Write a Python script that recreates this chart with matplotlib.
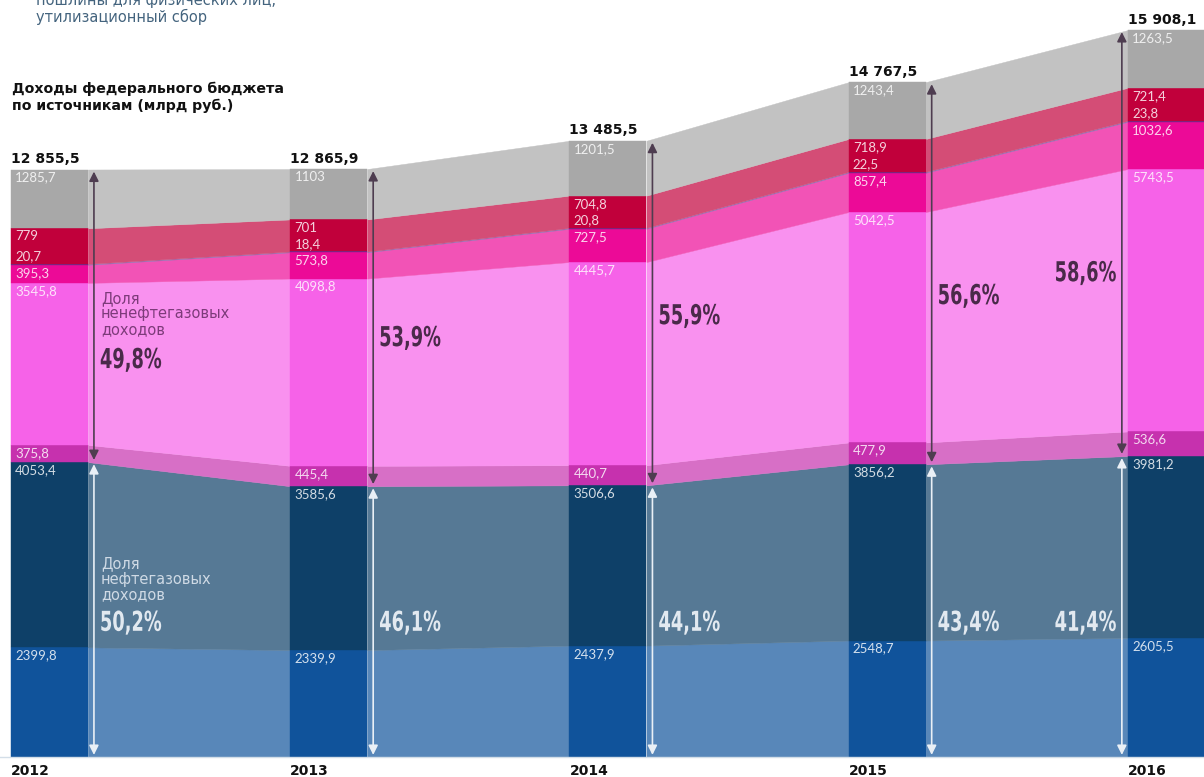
import matplotlib
matplotlib.use('Agg')
import matplotlib.pyplot as plt
import matplotlib.colors as mcolors
from matplotlib.textpath import TextPath
from matplotlib.patches import PathPatch
from matplotlib.font_manager import FontProperties
from matplotlib.transforms import Affine2D
import numpy as np

years = ['2012', '2013', '2014', '2015', '2016']
totals = [12855.5, 12865.9, 13485.5, 14767.5, 15908.1]

# revenue layers, bottom to top (млрд руб.)
oil_lower = [2399.8, 2339.9, 2437.9, 2548.7, 2605.5]
oil_upper = [4053.4, 3585.6, 3506.6, 3856.2, 3981.2]
nonoil_1 = [375.8, 445.4, 440.7, 477.9, 536.6]
nonoil_2 = [3545.8, 4098.8, 4445.7, 5042.5, 5743.5]
nonoil_3 = [395.3, 573.8, 727.5, 857.4, 1032.6]
nonoil_4 = [20.7, 18.4, 20.8, 22.5, 23.8]
nonoil_5 = [779, 701, 704.8, 718.9, 721.4]
nonoil_6 = [1285.7, 1103, 1201.5, 1243.4, 1263.5]

oil_share = ['50,2%', '46,1%', '44,1%', '43,4%', '41,4%']
nonoil_share = ['49,8%', '53,9%', '55,9%', '56,6%', '58,6%']

layers = [oil_lower, oil_upper, nonoil_1, nonoil_2, nonoil_3, nonoil_4, nonoil_5, nonoil_6]
colors = ['#10539b', '#0e4068', '#c631ae', '#f662e8', '#ec0a97', '#6c2d8f', '#c1003b', '#a8a8a8']


def fmt(v):
    return f'{v:,.1f}'.replace(',', ' ').replace('.', ',') if v >= 10000 else f'{v:g}'.replace('.', ',')


def lighten(c, a=0.7):
    r, g, b = mcolors.to_rgb(c)
    return (a * r + 1 - a, a * g + 1 - a, a * b + 1 - a)


# pixel geometry of the original picture
PX = 279.25       # px between bars
K = 0.0457        # px per млрд руб.
BASE = 20         # baseline, px from the bottom

fig = plt.figure(figsize=(12.04, 7.77), dpi=100)
ax = fig.add_axes([0, 0, 1, 1])
ax.set_xlim(-11 / PX, 1193 / PX)
ax.set_ylim(-BASE / K, (777 - BASE) / K)
ax.axis('off')


def narrow_text(xd, yd, s, color, ha='left', dx=0, sx=0.65, size=27.4):
    # condensed bold figure, drawn as a squeezed text path in pixel space
    tp = TextPath((0, 0), s, size=size, prop=FontProperties(family='DejaVu Sans', weight='bold'))
    width = tp.get_extents().x1 * sx
    px, py = ax.transData.transform((xd, yd))
    left = px + dx if ha == 'left' else px + dx - width
    tr = Affine2D().scale(sx, 1).translate(left, py - 0.729 * size / 2)
    fig.add_artist(PathPatch(tp, transform=tr, facecolor=color, edgecolor='none', zorder=6))


x = np.arange(len(years))
w = 77 / PX
bottom = np.zeros(len(years))
tops = []
for vals, c in zip(layers, colors):
    vals = np.array(vals, dtype=float)
    top = bottom + vals
    ax.bar(x, vals, w, bottom=bottom, align='edge', color=c, edgecolor=c, linewidth=0.3, zorder=2)
    lc = lighten(c)
    for i in range(len(x) - 1):
        ax.fill_between([x[i] + w, x[i + 1]], [bottom[i], bottom[i + 1]], [top[i], top[i + 1]],
                        color=lc, edgecolor=lc, linewidth=0.3, zorder=1)
    tops.append(top)
    bottom = top

ax.axhline(0, color='#d3dee8', lw=1, zorder=3)

lab_font = dict(family='Lato', fontsize=9.5, color='white', alpha=0.82, zorder=4)
for j, vals in enumerate(layers):
    for i in range(len(x)):
        if j == 5:
            ax.annotate(fmt(vals[i]), (x[i], tops[j][i]), xytext=(3, 1.2), textcoords='offset points',
                        va='bottom', ha='left', **lab_font)
        else:
            ax.annotate(fmt(vals[i]), (x[i], tops[j][i]), xytext=(3, -1.5), textcoords='offset points',
                        va='top', ha='left', **lab_font)

# totals and years
for i in range(len(x)):
    ax.annotate(fmt(totals[i]), (x[i], totals[i]), xytext=(0, 4.5), textcoords='offset points',
                ha='left', va='baseline', fontsize=10, fontweight='bold', color='#111111',
                family='DejaVu Sans')
    ax.annotate(years[i], (x[i], 0), xytext=(0, -13), textcoords='offset points',
                ha='left', va='baseline', fontsize=10, fontweight='bold', color='#111111',
                family='DejaVu Sans')

# share arrows
oil_top = tops[1]
arrow_x = [x[0] + 0.297, x[1] + 0.297, x[2] + 0.297, x[3] + 0.297, x[4] - 0.022]
nonoil_y = [8730, 9210, 9690, 10130, 10630]
oil_y = 2980
for i, axx in enumerate(arrow_x):
    ax.annotate('', xy=(axx, totals[i]), xytext=(axx, oil_top[i]),
                arrowprops=dict(arrowstyle='<|-|>', color='#4e3d50', lw=1.2, mutation_scale=14,
                                shrinkA=1.5, shrinkB=1.5), zorder=5)
    ax.annotate('', xy=(axx, oil_top[i]), xytext=(axx, 0),
                arrowprops=dict(arrowstyle='<|-|>', color='#eaf0f6', lw=1.2, mutation_scale=14,
                                shrinkA=1.5, shrinkB=1.5), zorder=5)
    ha = 'left' if i < 4 else 'right'
    dx = 6 if i < 4 else -6
    narrow_text(axx, nonoil_y[i], nonoil_share[i], '#4a2a4a', ha=ha, dx=dx)
    narrow_text(axx, oil_y, oil_share[i], '#e2e9f0', ha=ha, dx=dx)

ax.annotate('Доля\nненефтегазовых\nдоходов', (arrow_x[0], 10200), xytext=(5, 0),
            textcoords='offset points', ha='left', va='top', fontsize=10.5, color='#7d3b7a',
            linespacing=1.05, zorder=5)
ax.annotate('Доля\nнефтегазовых\nдоходов', (arrow_x[0], 4400), xytext=(5, 0),
            textcoords='offset points', ha='left', va='top', fontsize=10.5, color='#cfdae5',
            linespacing=1.05, zorder=5)

# heading and cut-off legend fragment
fig.text(12 / 1204, 1 - 93 / 777, 'Доходы федерального бюджета', fontsize=10.2, fontweight='bold',
         color='#111111', va='baseline', ha='left')
fig.text(12 / 1204, 1 - 110 / 777, 'по источникам (млрд руб.)', fontsize=10.2, fontweight='bold',
         color='#111111', va='baseline', ha='left')
fig.text(36 / 1204, 1 - 5 / 777, 'пошлины для физических лиц,', fontsize=10.5,
         color='#44647e', va='baseline', ha='left')
fig.text(36 / 1204, 1 - 22 / 777, 'утилизационный сбор', fontsize=10.5,
         color='#44647e', va='baseline', ha='left')

fig.savefig('out.png', dpi=100)
